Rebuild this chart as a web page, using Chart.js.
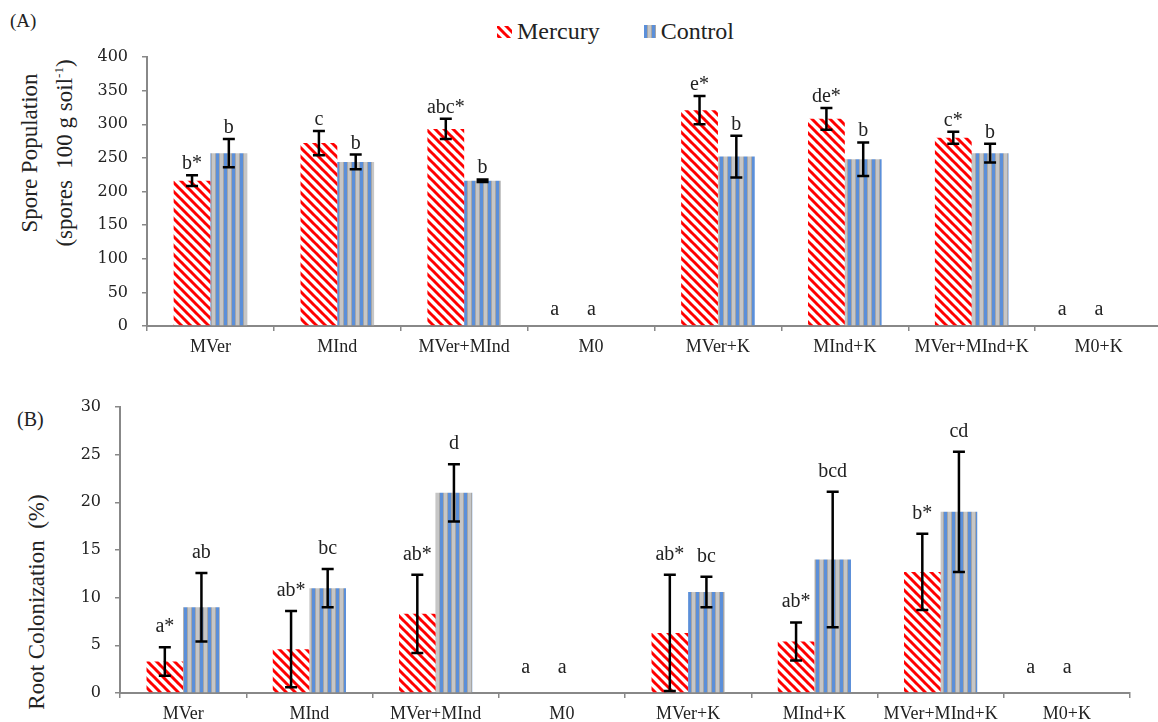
<!DOCTYPE html>
<html>
<head>
<meta charset="utf-8">
<script src="https://cdn.jsdelivr.net/npm/chart.js@4.4.0/dist/chart.umd.min.js"></script>
<style>
  body { margin: 0; width: 1158px; height: 722px; overflow: hidden; background: #fff; position: relative;
         font-family: "Liberation Serif", "Times New Roman", serif; color: #222; }
  .abs { position: absolute; white-space: nowrap; }
  .panel { font-size: 19px; }
  .ytitle { transform: translate(-50%, -50%) rotate(-90deg); text-align: center; font-size: 23px; line-height: 29px; }
  .ytitle sup { font-size: 13px; }
  #legend { top: 18px; left: 497px; font-size: 24px; display: flex; align-items: center; }
  #legend canvas { margin-right: 5px; }
  #legend span { margin-right: 44px; }
</style>
</head>
<body>
<div class="abs panel" style="left:10px;top:10px;">(A)</div>
<div class="abs panel" style="left:17px;top:408px;font-size:20px;">(B)</div>
<div id="legend" class="abs">
  <canvas id="swMercury" width="15" height="12"></canvas><span>Mercury</span>
  <canvas id="swControl" width="12" height="13"></canvas><span>Control</span>
</div>
<div class="abs ytitle" style="left:47px;top:153px;">Spore Population<br>(spores&nbsp; 100 g soil<sup>-1</sup>)</div>
<div class="abs ytitle" style="left:36px;top:602px;">Root Colonization&nbsp; (%)</div>

<canvas id="chartA" class="abs" style="left:0;top:0;" width="1170" height="370"></canvas>
<canvas id="chartB" class="abs" style="left:0;top:370px;" width="1158" height="352"></canvas>

<script>
// categories shared by both panels
var categories = ["MVer", "MInd", "MVer+MInd", "M0", "MVer+K", "MInd+K", "MVer+MInd+K", "M0+K"];

// (A) spore population
var sporeMercury    = [216, 272, 293, 0, 321, 308, 280, 0];
var sporeMercuryErr = [8, 18, 15, 0, 21, 16, 9, 0];
var sporeControl    = [257, 244, 216, 0, 252, 248, 257, 0];
var sporeControlErr = [21, 11, 2, 0, 31, 25, 14, 0];
var sporeMercuryLetters = ["b*", "c", "abc*", "a", "e*", "de*", "c*", "a"];
var sporeControlLetters = ["b", "b", "b", "a", "b", "b", "b", "a"];

// (B) root colonization
var rootMercury    = [3.3, 4.6, 8.3, 0, 6.3, 5.4, 12.7, 0];
var rootMercuryErr = [1.5, 4.0, 4.1, 0, 6.1, 2.0, 4.0, 0];
var rootControl    = [9.0, 11.0, 21.0, 0, 10.6, 14.0, 19.0, 0];
var rootControlErr = [3.6, 2.0, 3.0, 0, 1.6, 7.1, 6.3, 0];
var rootMercuryLetters = ["a*", "ab*", "ab*", "a", "ab*", "ab*", "b*", "a"];
var rootControlLetters = ["ab", "bc", "d", "a", "bc", "bcd", "cd", "a"];

var axisGray = "#888888";
var serif = "'Liberation Serif', 'Times New Roman', serif";

function makeMercuryTile() {
  var c = document.createElement("canvas");
  c.width = 9; c.height = 9;
  var g = c.getContext("2d");
  g.strokeStyle = "#ff0000";
  g.lineWidth = 3;
  for (var k = -9; k <= 9; k += 9) {
    g.beginPath();
    g.moveTo(k - 1, -1);
    g.lineTo(k + 10, 10);
    g.stroke();
  }
  return c;
}

function makeControlTile() {
  var c = document.createElement("canvas");
  c.width = 8; c.height = 4;
  var g = c.getContext("2d");
  g.fillStyle = "#5b8fd9"; g.fillRect(0, 0, 3, 4);
  g.fillStyle = "#a6a6a6"; g.fillRect(3, 0, 1, 4);
  g.fillStyle = "#c6c6c6"; g.fillRect(4, 0, 3, 4);
  g.fillStyle = "#a6a6a6"; g.fillRect(7, 0, 1, 4);
  return c;
}

var mercuryTile = makeMercuryTile();
var controlTile = makeControlTile();

function patternFor(ctx, tile) {
  return ctx.createPattern(tile, "repeat");
}

// legend swatches
(function () {
  var m = document.getElementById("swMercury").getContext("2d");
  m.fillStyle = patternFor(m, mercuryTile); m.fillRect(0, 0, 15, 12);
  var c = document.getElementById("swControl").getContext("2d");
  c.fillStyle = patternFor(c, controlTile); c.fillRect(0, 0, 12, 13);
})();

// error bars + significance letters
var errorBarPlugin = {
  id: "errorBars",
  afterDatasetsDraw: function (chart, args, opts) {
    var ctx = chart.ctx, yScale = chart.scales.y;
    chart.data.datasets.forEach(function (ds, di) {
      var meta = chart.getDatasetMeta(di);
      meta.data.forEach(function (bar, i) {
        var v = ds.data[i], e = ds.errors[i];
        var x = bar.x;
        var yTop = yScale.getPixelForValue(v + e);
        var yBot = yScale.getPixelForValue(v - e);
        ctx.save();
        if (e > 0) {
          ctx.strokeStyle = "#000";
          ctx.lineWidth = 2.5;
          ctx.beginPath();
          ctx.moveTo(x, yTop); ctx.lineTo(x, yBot);
          ctx.moveTo(x - 6, yTop); ctx.lineTo(x + 6, yTop);
          ctx.moveTo(x - 6, yBot); ctx.lineTo(x + 6, yBot);
          ctx.stroke();
        }
        var lx = x, ly = yTop - opts.gap;
        if (v === 0) { lx = x - 18; ly = yTop - opts.zeroGap; }
        ctx.fillStyle = "#222";
        ctx.font = "20px " + serif;
        ctx.textAlign = "center";
        ctx.textBaseline = "alphabetic";
        ctx.fillText(ds.letters[i], lx, ly);
        ctx.restore();
      });
    });
  }
};

function buildChart(canvasId, mercury, mercuryErr, mercuryLetters, control, controlErr, controlLetters,
                    yMax, yStep, box, gaps) {
  var canvas = document.getElementById(canvasId);
  var ctx = canvas.getContext("2d");
  return new Chart(canvas, {
    type: "bar",
    data: {
      labels: categories,
      datasets: [
        { label: "Mercury", data: mercury, errors: mercuryErr, letters: mercuryLetters,
          backgroundColor: patternFor(ctx, mercuryTile), borderWidth: 0 },
        { label: "Control", data: control, errors: controlErr, letters: controlLetters,
          backgroundColor: patternFor(ctx, controlTile), borderWidth: 0 }
      ]
    },
    options: {
      responsive: false,
      animation: false,
      events: [],
      layout: { padding: { left: 0, right: box.right, top: box.top, bottom: 0 } },
      datasets: { bar: { barPercentage: 1, categoryPercentage: 0.58 } },
      plugins: {
        legend: { display: false },
        tooltip: { enabled: false },
        errorBars: { gap: gaps[0], zeroGap: gaps[1] }
      },
      scales: {
        x: {
          afterFit: function (scale) { scale.height = box.xHeight; },
          grid: { offset: true, drawOnChartArea: false, drawTicks: true, tickLength: 5, color: axisGray, lineWidth: 1.5 },
          border: { display: true, color: axisGray, width: 2 },
          ticks: { autoSkip: false, maxRotation: 0, padding: 5, color: "#222",
                   font: { family: serif, size: 18 } }
        },
        y: {
          min: 0, max: yMax,
          afterFit: function (scale) { scale.width = box.yWidth; },
          grid: { drawOnChartArea: false, drawTicks: true, tickLength: 5, color: axisGray, lineWidth: 1.5 },
          border: { display: true, color: axisGray, width: 2 },
          ticks: { stepSize: yStep, padding: 14, color: "#222",
                   font: { family: "'DejaVu Serif', serif", size: 16 } }
        }
      }
    },
    plugins: [errorBarPlugin]
  });
}

buildChart("chartA", sporeMercury, sporeMercuryErr, sporeMercuryLetters,
           sporeControl, sporeControlErr, sporeControlLetters,
           400, 50, { top: 57, right: 8, yWidth: 147, xHeight: 44 }, [6, 11]);

buildChart("chartB", rootMercury, rootMercuryErr, rootMercuryLetters,
           rootControl, rootControlErr, rootControlLetters,
           30, 5, { top: 37, right: 28, yWidth: 120, xHeight: 29 }, [15, 20]);
</script>
</body>
</html>
